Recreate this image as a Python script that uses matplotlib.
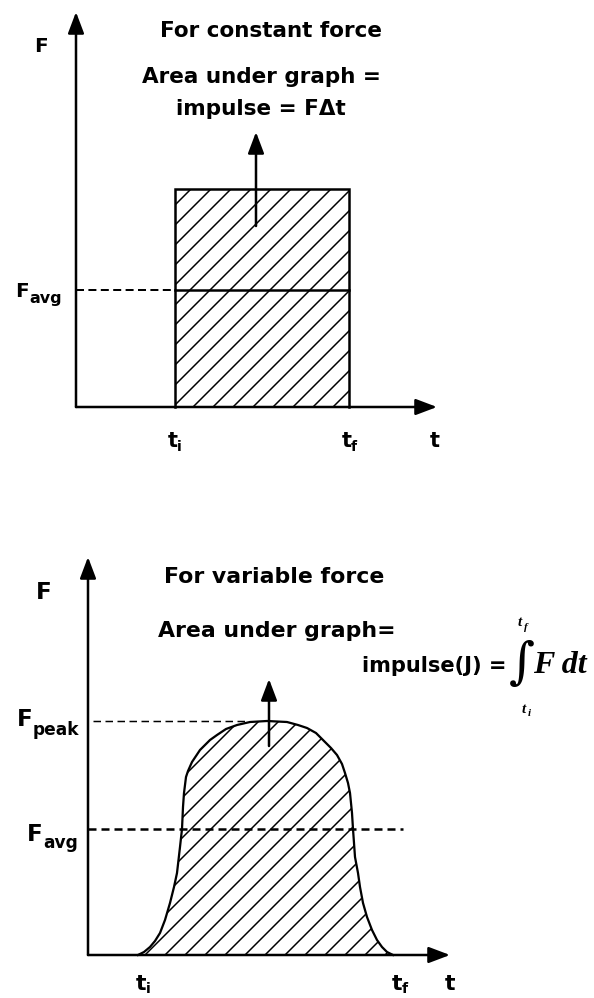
import matplotlib
matplotlib.use('Agg')
import matplotlib.pyplot as plt

DPI = 120
W, H = 594, 998
PT = 72.0 / DPI  # points per pixel

plt.rcParams['font.family'] = ['DejaVu Sans']
plt.rcParams['font.weight'] = 'bold'
plt.rcParams['hatch.linewidth'] = 0.9

# ---------------- data: top panel (constant force) ----------------
TOP_T_I = 0.99
TOP_T_F = 2.73
TOP_F = 2.18
TOP_F_AVG = 1.17
TOP_T_END = 3.61
TOP_F_END = 3.95
TOP_ARROW_T = 1.80
TOP_ARROW_F = [1.81, 2.75]

# ---------------- data: bottom panel (variable force) ----------------
BOT_T = [0.50, 0.56, 0.62, 0.67, 0.72, 0.77, 0.82, 0.86, 0.89, 0.92,
         0.94, 0.95, 0.96, 0.98, 1.00, 1.04, 1.08, 1.12, 1.17, 1.22,
         1.29, 1.38, 1.49, 1.62, 1.79, 1.99, 2.10, 2.19, 2.28, 2.35,
         2.43, 2.49, 2.54, 2.57, 2.60, 2.62, 2.64, 2.65, 2.66, 2.67,
         2.70, 2.72, 2.75, 2.79, 2.84, 2.89, 2.94, 2.99, 3.05]
BOT_F = [0.00, 0.03, 0.08, 0.14, 0.22, 0.35, 0.52, 0.68, 0.82, 1.08,
         1.26, 1.48, 1.62, 1.78, 1.84, 1.93, 1.99, 2.05, 2.10, 2.15,
         2.20, 2.26, 2.30, 2.33, 2.34, 2.33, 2.30, 2.27, 2.22, 2.15,
         2.07, 2.00, 1.91, 1.82, 1.72, 1.62, 1.42, 1.26, 1.12, 0.98,
         0.82, 0.68, 0.52, 0.38, 0.25, 0.15, 0.08, 0.03, 0.00]
BOT_F_PEAK = 2.34
BOT_F_AVG = 1.26
BOT_T_END = 3.62
BOT_F_END = 3.98
BOT_PEAK_DASH_T = [0.05, 1.57]
BOT_AVG_DASH_T = [0.0, 3.15]
BOT_ARROW_T = 1.81
BOT_ARROW_F = [2.09, 2.76]

fig = plt.figure(figsize=(W / DPI, H / DPI), dpi=DPI)
fig.patch.set_facecolor('white')

S = 100.0  # pixels per data unit


def make_axes(ox, oy, y0, y1):
    ax = fig.add_axes([0, 1 - y1 / H, 1, (y1 - y0) / H])
    ax.set_xlim(-ox / S, (W - ox) / S)
    ax.set_ylim((oy - y1) / S, (oy - y0) / S)
    ax.axis('off')
    return ax


def P(ox, oy, px, py):
    return (px - ox) / S, (oy - py) / S


def arrow(ax, x0, y0, x1, y1, lw=1.5):
    ax.annotate('', xy=(x1, y1), xytext=(x0, y0),
                arrowprops=dict(arrowstyle='-|>,head_length=0.9,head_width=0.34',
                                color='black', lw=lw, shrinkA=0, shrinkB=0,
                                mutation_scale=12),
                annotation_clip=False)


def fs(px):
    return px * PT


LW = 2.5 * PT

# ======================= TOP PANEL =======================
OX1, OY1 = 76, 407
ax1 = make_axes(OX1, OY1, 0, 500)

arrow(ax1, 0, 0, 0, TOP_F_END)
arrow(ax1, 0, 0, TOP_T_END, 0)

ax1.fill_between([TOP_T_I, TOP_T_F], 0, TOP_F, facecolor='none',
                 edgecolor='black', hatch='//', linewidth=0)
ax1.plot([TOP_T_I, TOP_T_I, TOP_T_F, TOP_T_F], [0, TOP_F, TOP_F, 0],
         color='black', lw=LW, solid_joinstyle='miter')
ax1.plot([0, TOP_T_I], [TOP_F_AVG, TOP_F_AVG], color='black', lw=2 * PT,
         dashes=(4.0, 2.2))
ax1.plot([TOP_T_I, TOP_T_F], [TOP_F_AVG, TOP_F_AVG], color='black', lw=LW)
arrow(ax1, TOP_ARROW_T, TOP_ARROW_F[0], TOP_ARROW_T, TOP_ARROW_F[1])

T = lambda px, py: P(OX1, OY1, px, py)
ax1.text(*T(271, 37), 'For constant force', ha='center', va='baseline', fontsize=fs(21.5))
ax1.text(*T(261, 83), 'Area under graph =', ha='center', va='baseline', fontsize=fs(21.5))
ax1.text(*T(261, 115), 'impulse = F\u0394t', ha='center', va='baseline', fontsize=fs(21.5))
ax1.text(*T(41, 52), 'F', ha='center', va='baseline', fontsize=fs(20))
ax1.text(*T(15, 297), 'F', ha='left', va='baseline', fontsize=fs(20))
ax1.text(*T(29, 303), 'avg', ha='left', va='baseline', fontsize=fs(16))
for x, sub in [(173, 'i'), (347, 'f')]:
    ax1.text(*T(x, 447), 't', ha='center', va='baseline', fontsize=fs(21))
    ax1.text(*T(x + 4, 451), sub, ha='left', va='baseline', fontsize=fs(14))
ax1.text(*T(435, 447), 't', ha='center', va='baseline', fontsize=fs(21))

# ======================= BOTTOM PANEL =======================
OX2, OY2 = 88, 955
ax2 = make_axes(OX2, OY2, 500, 998)

arrow(ax2, 0, 0, 0, BOT_F_END)
arrow(ax2, 0, 0, BOT_T_END, 0)

ax2.fill_between(BOT_T, 0, BOT_F, facecolor='none', edgecolor='black',
                 hatch='//', linewidth=0)
ax2.plot(BOT_T, BOT_F, color='black', lw=LW * 0.9, solid_joinstyle='round')
ax2.plot(BOT_PEAK_DASH_T, [BOT_F_PEAK, BOT_F_PEAK], color='black', lw=1.5 * PT,
         dashes=(5.0, 3.0))
ax2.plot(BOT_AVG_DASH_T, [BOT_F_AVG, BOT_F_AVG], color='black', lw=2.5 * PT,
         dashes=(3.2, 2.0))
arrow(ax2, BOT_ARROW_T, BOT_ARROW_F[0], BOT_ARROW_T, BOT_ARROW_F[1])

B = lambda px, py: P(OX2, OY2, px, py)
ax2.text(*B(274, 583), 'For variable force', ha='center', va='baseline', fontsize=fs(22))
ax2.text(*B(158, 637), 'Area under graph=', ha='left', va='baseline', fontsize=fs(22))
ax2.text(*B(362, 672), 'impulse(J) =', ha='left', va='baseline', fontsize=fs(21))
ax2.text(*B(522, 664), '\u222b', ha='center', va='center', fontsize=fs(50),
         family='DejaVu Serif', weight='normal')
ax2.text(*B(533, 673), 'F dt', ha='left', va='baseline', fontsize=fs(32),
         family='Liberation Serif', style='italic', weight='bold')
ax2.text(*B(520, 626), 't', ha='center', va='baseline', fontsize=fs(15),
         family='Liberation Serif', style='italic', weight='bold')
ax2.text(*B(524, 630), 'f', ha='left', va='baseline', fontsize=fs(11),
         family='Liberation Serif', style='italic', weight='bold')
ax2.text(*B(524, 713), 't', ha='center', va='baseline', fontsize=fs(15),
         family='Liberation Serif', style='italic', weight='bold')
ax2.text(*B(528, 716), 'i', ha='left', va='baseline', fontsize=fs(11),
         family='Liberation Serif', style='italic', weight='bold')

ax2.text(*B(44, 599), 'F', ha='center', va='baseline', fontsize=fs(23))
ax2.text(*B(17, 726), 'F', ha='left', va='baseline', fontsize=fs(23))
ax2.text(*B(33, 735), 'peak', ha='left', va='baseline', fontsize=fs(17))
ax2.text(*B(27, 841), 'F', ha='left', va='baseline', fontsize=fs(23))
ax2.text(*B(43, 848), 'avg', ha='left', va='baseline', fontsize=fs(17))
for x, sub in [(141, 'i'), (397, 'f')]:
    ax2.text(*B(x, 990), 't', ha='center', va='baseline', fontsize=fs(22))
    ax2.text(*B(x + 5, 993), sub, ha='left', va='baseline', fontsize=fs(14))
ax2.text(*B(450, 990), 't', ha='center', va='baseline', fontsize=fs(22))

fig.savefig('out.png', dpi=DPI, facecolor='white')
